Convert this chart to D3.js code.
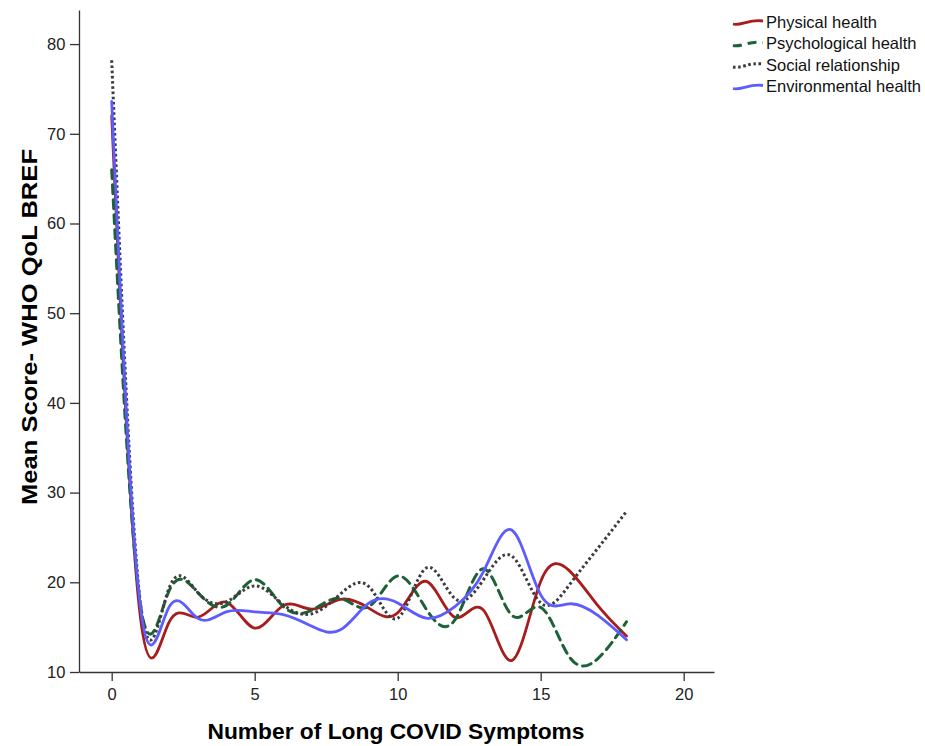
<!DOCTYPE html>
<html>
<head>
<meta charset="utf-8">
<script src="https://cdn.jsdelivr.net/npm/d3@7"></script>
<style>
    body { margin: 0; background: #fff; }
    text { font-family: Arial, "Liberation Sans", sans-serif; }
    .axis path, .axis line { stroke: #333; stroke-width: 1.3; }
</style>
</head>
<body>
<div id="main"></div>
<script>
var chartCfg = {
    width: 925,
    height: 746,
    left: 79,
    right: 714,
    top: 10,
    bottom: 672,
};

// number of long COVID symptoms
var symptoms = [0, 1, 2, 3, 4, 5, 6, 7, 8, 9, 10, 11, 12, 13, 14, 15, 16, 17, 18];

var physical = [72, 16.2, 15.5, 16.1, 17.8, 14.9, 17.4, 17.0, 18.1, 17.1, 16.6, 20.1, 16.1, 16.9, 11.3, 20.1, 21.3, 17.4, 14.0];
var psychological = [66, 17.6, 19.0, 18.9, 17.4, 20.3, 17.3, 16.9, 18.2, 17.3, 20.7, 17.0, 15.8, 21.5, 16.3, 17.2, 11.7, 11.5, 15.6];
var social = [78.2, 17.8, 19.3, 18.9, 17.8, 19.6, 17.5, 16.5, 18.7, 19.5, 16.0, 21.6, 18.2, 20.3, 22.9, 17.7, 19.7, 23.8, 27.9];
var environmental = [73.6, 17.4, 17.2, 16.0, 16.7, 16.7, 16.4, 15.1, 14.7, 17.7, 17.7, 16.0, 17.3, 21.2, 25.8, 18.6, 17.6, 16.3, 13.6];

var seriesNames = ["Physical health", "Psychological health", "Social relationship", "Environmental health"];
var xTicks = [0, 5, 10, 15, 20];
var yTicks = [10, 20, 30, 40, 50, 60, 70, 80];

var styles = [
    { color: "#a81c1c", dash: null, width: 2.8 },
    { color: "#1d6236", dash: "9,6", width: 3 },
    { color: "#3c3c3c", dash: "2.6,2.6", width: 3 },
    { color: "#5c5cff", dash: null, width: 2.8 },
];

var series = [physical, psychological, social, environmental].map(function (vals, i) {
    return {
        name: seriesNames[i],
        points: symptoms.map(function (s, j) { return { x: s, y: vals[j] }; }),
    };
});

var x = d3.scaleLinear().domain([-1.143, 21.06]).range([chartCfg.left, chartCfg.right]);
var y = d3.scaleLinear().domain([10, 83.8]).range([chartCfg.bottom, chartCfg.top]);

var svg = d3
    .select("#main")
    .append("svg")
    .attr("width", chartCfg.width)
    .attr("height", chartCfg.height);

var line = d3
    .line()
    .x(function (d) { return x(d.x); })
    .y(function (d) { return y(d.y); })
    .curve(d3.curveNatural);

svg.selectAll(".series")
    .data(series)
    .enter()
    .append("path")
    .attr("class", "series")
    .attr("d", function (d) { return line(d.points); })
    .attr("fill", "none")
    .attr("stroke", function (d, i) { return styles[i].color; })
    .attr("stroke-width", function (d, i) { return styles[i].width; })
    .attr("stroke-dasharray", function (d, i) { return styles[i].dash; })
    .attr("stroke-linecap", function (d, i) { return i == 2 ? "butt" : "round"; });

// axes
var xAxis = svg.append("g")
    .attr("class", "axis")
    .attr("transform", "translate(0," + chartCfg.bottom + ")")
    .call(d3.axisBottom(x).tickValues(xTicks).tickSize(9).tickSizeOuter(0));
xAxis.select(".domain").attr("stroke", "#888");

var yAxis = svg.append("g")
    .attr("class", "axis")
    .attr("transform", "translate(" + chartCfg.left + ",0)")
    .call(d3.axisLeft(y).tickValues(yTicks).tickSize(9).tickSizeOuter(0));

svg.selectAll(".axis text")
    .attr("font-size", 16.5)
    .attr("fill", "#222")
    .attr("font-family", "Arial, 'Liberation Sans', sans-serif");
xAxis.selectAll("text").attr("dy", "0.95em");
yAxis.selectAll("text").attr("dx", "-0.1em");

svg.append("text")
    .attr("x", 396)
    .attr("y", 739)
    .attr("text-anchor", "middle")
    .attr("font-size", 22)
    .attr("font-weight", "bold")
    .attr("textLength", 377)
    .attr("lengthAdjust", "spacingAndGlyphs")
    .text("Number of Long COVID Symptoms");

svg.append("text")
    .attr("transform", "translate(37,327) rotate(-90)")
    .attr("text-anchor", "middle")
    .attr("font-size", 22)
    .attr("font-weight", "bold")
    .attr("textLength", 356)
    .attr("lengthAdjust", "spacingAndGlyphs")
    .text("Mean Score- WHO QoL BREF");

// legend
var legend = svg.selectAll(".legend")
    .data(series)
    .enter()
    .append("g")
    .attr("class", "legend")
    .attr("transform", function (d, i) { return "translate(733," + (22 + i * 21.5) + ")"; });

legend.append("path")
    .attr("d", "M0,2 C8,4 16,-3 30,-1")
    .attr("fill", "none")
    .attr("stroke", function (d, i) { return styles[i].color; })
    .attr("stroke-width", function (d, i) { return styles[i].width; })
    .attr("stroke-dasharray", function (d, i) { return styles[i].dash; });

legend.append("text")
    .attr("x", 33)
    .attr("y", 5.5)
    .attr("font-size", 16.5)
    .attr("fill", "#111")
    .text(function (d) { return d.name; });
</script>
</body>
</html>
